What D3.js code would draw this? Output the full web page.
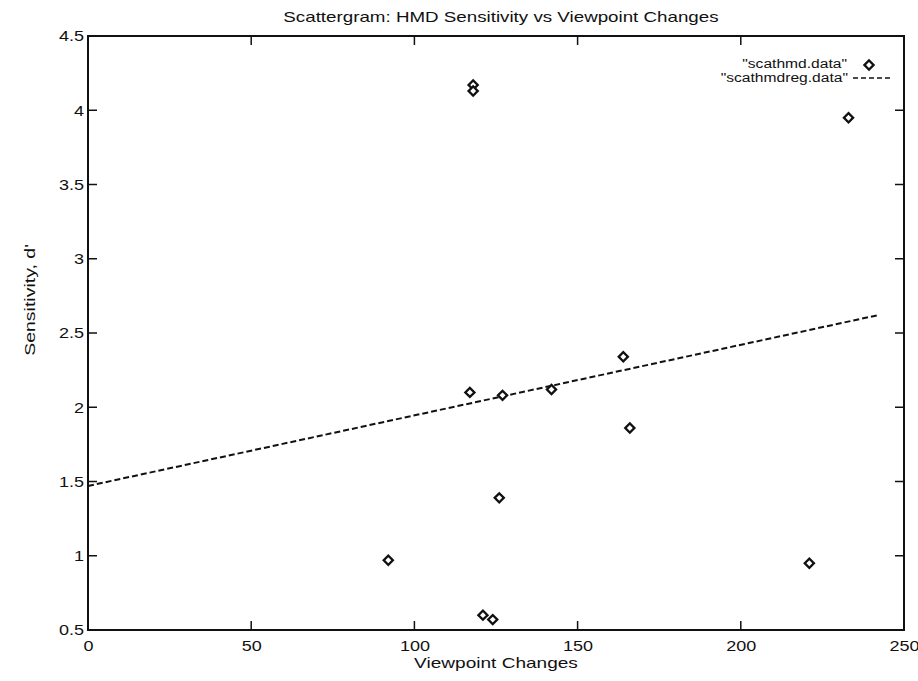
<!DOCTYPE html>
<html>
<head>
<meta charset="utf-8">
<script src="https://cdn.jsdelivr.net/npm/d3@7"></script>
<style>
  body { margin: 0; background: #fff; }
  text { font-family: "Liberation Sans", Arial, sans-serif; fill: #111; }
</style>
</head>
<body>
<script>
// scatter points (Viewpoint Changes, Sensitivity d')
const viewpoint = [118, 118, 233, 117, 127, 142, 164, 166, 126, 92, 121, 124, 221];
const sensitivity = [4.17, 4.13, 3.95, 2.10, 2.08, 2.12, 2.34, 1.86, 1.39, 0.97, 0.60, 0.57, 0.95];

// regression line end points
const regX = [0, 242];
const regY = [1.47, 2.62];

const xTicks = [0, 50, 100, 150, 200, 250];
const yTicks = [0.5, 1, 1.5, 2, 2.5, 3, 3.5, 4, 4.5];

const width = 918, height = 681;
const mLeft = 88, mRight = 904, mTop = 36, mBottom = 630;

const svg = d3.select('body').append('svg')
  .attr('width', width)
  .attr('height', height);

const x = d3.scaleLinear().domain([0, 250]).range([mLeft, mRight]);
const y = d3.scaleLinear().domain([0.5, 4.5]).range([mBottom, mTop]);

// the scan is a bit wider than normal type, so stretch text horizontally
function stretch(sel, k) {
  sel.each(function () {
    const len = this.getComputedTextLength();
    d3.select(this).attr('textLength', len * k).attr('lengthAdjust', 'spacingAndGlyphs');
  });
}

// frame
svg.append('rect')
  .attr('x', mLeft).attr('y', mTop)
  .attr('width', mRight - mLeft).attr('height', mBottom - mTop)
  .attr('fill', 'none').attr('stroke', '#111').attr('stroke-width', 2);

// axes (labels only, ticks drawn inward below)
const tickLen = 9;
const bottomAxis = d3.axisBottom(x).tickValues(xTicks).tickSize(0).tickPadding(10)
  .tickFormat(d3.format('d'));
const gx = svg.append('g').attr('transform', `translate(0,${mBottom})`).call(bottomAxis);
gx.select('.domain').remove();

const leftAxis = d3.axisLeft(y).tickValues(yTicks).tickSize(0).tickPadding(4)
  .tickFormat(d => String(d));
const gy = svg.append('g').attr('transform', `translate(${mLeft},0)`).call(leftAxis);
gy.select('.domain').remove();

svg.selectAll('.tick text')
  .attr('font-size', 15)
  .attr('font-family', '"Liberation Sans", Arial, sans-serif')
  .attr('fill', '#111')
  .call(stretch, 1.2);

const inner = xTicks.slice(1, -1);
svg.append('g').selectAll('line').data(inner).enter().append('line')
  .attr('x1', d => x(d)).attr('x2', d => x(d))
  .attr('y1', mBottom).attr('y2', mBottom - tickLen)
  .attr('stroke', '#111').attr('stroke-width', 1.5);
svg.append('g').selectAll('line').data(inner).enter().append('line')
  .attr('x1', d => x(d)).attr('x2', d => x(d))
  .attr('y1', mTop).attr('y2', mTop + tickLen)
  .attr('stroke', '#111').attr('stroke-width', 1.5);

const innerY = yTicks.slice(1, -1);
svg.append('g').selectAll('line').data(innerY).enter().append('line')
  .attr('x1', mLeft).attr('x2', mLeft + tickLen)
  .attr('y1', d => y(d)).attr('y2', d => y(d))
  .attr('stroke', '#111').attr('stroke-width', 1.5);
svg.append('g').selectAll('line').data(innerY).enter().append('line')
  .attr('x1', mRight).attr('x2', mRight - tickLen)
  .attr('y1', d => y(d)).attr('y2', d => y(d))
  .attr('stroke', '#111').attr('stroke-width', 1.5);

// regression line
const line = d3.line().x(d => x(d[0])).y(d => y(d[1]));
svg.append('path')
  .datum(d3.zip(regX, regY))
  .attr('d', line)
  .attr('fill', 'none')
  .attr('stroke', '#111')
  .attr('stroke-width', 2)
  .attr('stroke-dasharray', '6,3');

// diamonds
const diamond = d3.symbol().type(d3.symbolSquare).size(42);
svg.append('g').selectAll('path').data(d3.zip(viewpoint, sensitivity)).enter().append('path')
  .attr('d', diamond)
  .attr('transform', d => `translate(${x(d[0])},${y(d[1])}) rotate(45)`)
  .attr('fill', 'white')
  .attr('stroke', '#111')
  .attr('stroke-width', 2.3);

// title and labels
svg.append('text')
  .attr('x', 501).attr('y', 22)
  .attr('text-anchor', 'middle')
  .attr('font-size', 15)
  .text('Scattergram: HMD Sensitivity vs Viewpoint Changes')
  .call(stretch, 1.25);

svg.append('text')
  .attr('x', 496).attr('y', 668)
  .attr('text-anchor', 'middle')
  .attr('font-size', 15)
  .text('Viewpoint Changes')
  .call(stretch, 1.27);

svg.append('text')
  .attr('transform', 'translate(35,300) rotate(-90)')
  .attr('text-anchor', 'middle')
  .attr('font-size', 15)
  .text("Sensitivity, d'")
  .call(stretch, 1.3);

// legend
svg.append('text')
  .attr('x', 847).attr('y', 68)
  .attr('text-anchor', 'end')
  .attr('font-size', 12)
  .text('"scathmd.data"')
  .call(stretch, 1.3);
svg.append('path')
  .attr('d', diamond)
  .attr('transform', 'translate(869,65) rotate(45)')
  .attr('fill', 'white')
  .attr('stroke', '#111')
  .attr('stroke-width', 2.3);

svg.append('text')
  .attr('x', 848).attr('y', 82)
  .attr('text-anchor', 'end')
  .attr('font-size', 12)
  .text('"scathmdreg.data"')
  .call(stretch, 1.3);
svg.append('line')
  .attr('x1', 853).attr('x2', 890)
  .attr('y1', 78).attr('y2', 78)
  .attr('stroke', '#111')
  .attr('stroke-width', 1.5)
  .attr('stroke-dasharray', '5,3');
</script>
</body>
</html>
